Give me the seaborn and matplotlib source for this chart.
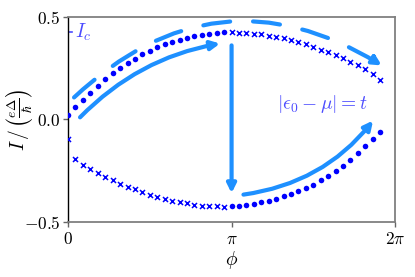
import numpy as np
import pandas as pd
import seaborn as sns
import matplotlib.pyplot as plt

plt.rcParams['mathtext.fontset'] = 'cm'

# phase grid index (step pi/22)
n_steps = 22
idx_first = np.arange(0, 22)      # 0 .. 21*pi/22
idx_second = np.arange(22, 43)    # pi .. 42*pi/22

# upper branch: stable (dots) then metastable (crosses)
upper_dots = [0.020, 0.058, 0.094, 0.130, 0.165, 0.196, 0.224, 0.251, 0.276, 0.297, 0.317,
              0.335, 0.351, 0.366, 0.376, 0.388, 0.398, 0.405, 0.413, 0.419, 0.423, 0.424]
upper_cross = [0.424, 0.423, 0.421, 0.418, 0.415, 0.409, 0.402, 0.395, 0.388, 0.377, 0.366,
               0.353, 0.340, 0.327, 0.312, 0.298, 0.281, 0.263, 0.244, 0.223, 0.194]
# lower branch: metastable (crosses) then stable (dots)
lower_cross = [-0.098, -0.192, -0.223, -0.244, -0.263, -0.280, -0.298, -0.313, -0.328, -0.342, -0.356,
               -0.368, -0.380, -0.389, -0.396, -0.404, -0.410, -0.416, -0.421, -0.423, -0.424, -0.425]
lower_dots = [-0.424, -0.423, -0.419, -0.413, -0.405, -0.398, -0.388, -0.376, -0.366, -0.351, -0.336,
              -0.318, -0.298, -0.277, -0.252, -0.226, -0.197, -0.166, -0.132, -0.096, -0.060]
I_c = 0.424

phi1 = idx_first * np.pi / n_steps
phi2 = idx_second * np.pi / n_steps
dots = pd.DataFrame({'phi': np.concatenate([phi1, phi2]),
                     'I': np.concatenate([upper_dots, lower_dots])})
crosses = pd.DataFrame({'phi': np.concatenate([phi1, phi2]),
                        'I': np.concatenate([lower_cross, upper_cross])})

fig = plt.figure(figsize=(4.15, 2.77), dpi=100)
ax = fig.add_axes([0.164, 0.199, 0.788, 0.740])

arrow_col = '#1e90ff'
text_col = '#4b4bff'

sns.scatterplot(data=dots, x='phi', y='I', ax=ax, color='#0000ff', marker='o',
                s=16, linewidth=0, zorder=3)
sns.scatterplot(data=crosses, x='phi', y='I', ax=ax, color='#0000ff', marker='x',
                s=13, linewidth=1.1, zorder=3)

def arrow(start, end, rad, ls='-'):
    ax.annotate('', xy=end, xytext=start,
                arrowprops=dict(arrowstyle='-|>', connectionstyle=f'arc3,rad={rad}',
                                lw=3, color=arrow_col, linestyle=ls,
                                shrinkA=0, shrinkB=0, mutation_scale=13))

# dashed arrow over the top
arrow((0.115, 0.107), (6.03, 0.263), -0.38, ls=(0, (6.5, 5.5)))
# solid arrow along the upper branch
arrow((0.23, 0.01), (2.92, 0.370), -0.16)
# jump at pi
arrow((np.pi, 0.361), (np.pi, -0.36), 0)
# solid arrow along the lower branch
arrow((3.37, -0.367), (5.86, -0.006), 0.2)

ax.plot([0, 0.08], [I_c, I_c], color=text_col, lw=1.2)
ax.text(0.13, I_c, r'$I_c$', color=text_col, fontsize=14, va='center', ha='left')
ax.text(4.02, 0.073, r'$|\epsilon_0-\mu|=t$', color=text_col, fontsize=14,
        va='center', ha='left')

ax.set_xlim(0, 2 * np.pi)
ax.set_ylim(-0.5, 0.5)
ax.set_xticks([0, np.pi, 2 * np.pi])
ax.set_xticklabels([r'$0$', r'$\pi$', r'$2\pi$'], fontsize=12.5)
ax.set_yticks([-0.5, 0.0, 0.5])
ax.set_yticklabels([r'$-0.5$', r'$0.0$', r'$0.5$'], fontsize=12.5)
ax.tick_params(length=3.5, width=1, color='0.4', pad=2)
ax.set_xlabel(r'$\phi$', fontsize=14, labelpad=1)
ax.set_ylabel(r'$I\,/\,\left(\frac{e\Delta}{\hbar}\right)$', fontsize=14)
ax.yaxis.set_label_coords(-0.10, 0.5)

for side in ['top', 'right', 'bottom']:
    ax.spines[side].set_color('0.5')
    ax.spines[side].set_linewidth(1.3)
ax.spines['left'].set_color('black')
ax.spines['left'].set_linewidth(1.0)

fig.savefig('out.png', dpi=100)
